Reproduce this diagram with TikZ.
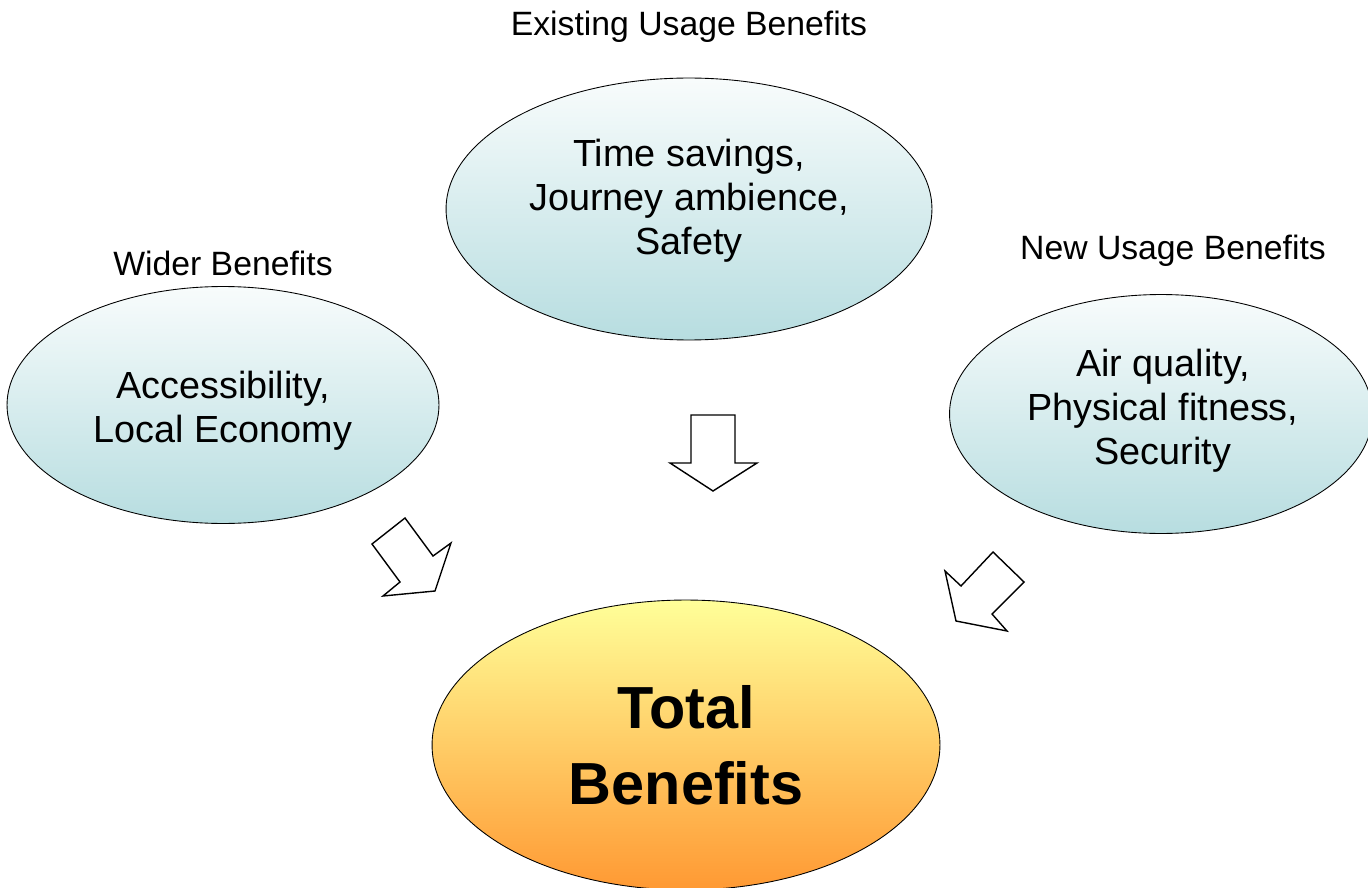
\documentclass[tikz,border=0pt]{standalone}
\usepackage{fontspec}
\setmainfont{Liberation Sans}
\usetikzlibrary{shapes.geometric}

\definecolor{benefitTop}{HTML}{F8FCFC}
\definecolor{benefitBot}{HTML}{B7DDE0}
\definecolor{totalTop}{HTML}{FFFF99}
\definecolor{totalBot}{HTML}{FF9933}

\begin{document}
\begin{tikzpicture}[x=0.02cm, y=-0.02cm,
    benefit/.style={ellipse, draw, line width=0.5pt, top color=benefitTop, bottom color=benefitBot,
        inner sep=0pt, align=center, font=\fontsize{21.5}{25}\selectfont},
    total/.style={ellipse, draw, line width=0.5pt, top color=totalTop, bottom color=totalBot,
        inner sep=0pt, align=center, font=\fontsize{33.8}{43}\selectfont\bfseries},
    inside/.style={align=center, font=\fontsize{21.5}{25}\selectfont},
    heading/.style={font=\fontsize{19.2}{23}\selectfont},
    blockarrow/.style={draw, fill=white, line width=0.8pt, line join=miter}]

        \useasboundingbox (0,0) rectangle (1368,888);
        \clip (0,0) rectangle (1368,888);

        % Existing usage
        \node[benefit, minimum width=9.72cm, minimum height=5.24cm] (existing) at (689,209) {};
        \node[inside] (existingtext) at (689,201) {Time savings,\\Journey ambience,\\Safety};
        \node[heading] (existinglabel) at (689,27) {Existing Usage Benefits};

        % Wider
        \node[benefit, minimum width=8.64cm, minimum height=4.74cm] (wider) at (223,405) {};
        \node[inside] (widertext) at (223,411) {Accessibility,\\Local Economy};
        \node[heading] (widerlabel) at (223,263) {Wider Benefits};

        % New usage
        \node[benefit, minimum width=8.46cm, minimum height=4.78cm] (newusage) at (1161,414) {};
        \node[inside] (newtext) at (1163,411) {Air quality,\\Physical fitness,\\Security};
        \node[heading] (newlabel) at (1173,251) {New Usage Benefits};

        % Total
        \node[total, minimum width=10.16cm, minimum height=5.8cm] (total) at (686,745)
            {Total\\Benefits};

        % Block arrows
        \draw[blockarrow] (691,415) -- (735,415) -- (735,463) -- (757,463) -- (713,491) -- (670,463) -- (691,463) -- cycle;
        \draw[blockarrow] (405,518) -- (372,544) -- (400,582) -- (383,596) -- (435,591) -- (451,543) -- (433,556) -- cycle;
        \draw[blockarrow] (993,552) -- (1024,582) -- (992,614) -- (1007,631) -- (956,621) -- (945,571) -- (961,586) -- cycle;
    \end{tikzpicture}
\end{document}
